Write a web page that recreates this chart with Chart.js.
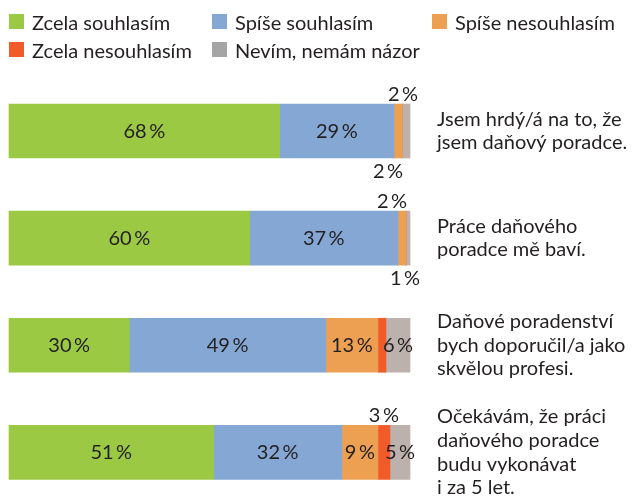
<!DOCTYPE html>
<html>
<head>
<meta charset="utf-8">
<script src="https://cdn.jsdelivr.net/npm/chart.js@4"></script>
<style>
  body { margin: 0; background: #fff; }
</style>
</head>
<body>
<canvas id="barChart" width="633" height="503"></canvas>
<script>
// kategorie (výroky) a hodnoty v %
const categories = [
  ['Jsem hrdý/á na to, že', 'jsem daňový poradce.'],
  ['Práce daňového', 'poradce mě baví.'],
  ['Daňové poradenství', 'bych doporučil/a jako', 'skvělou profesi.'],
  ['Očekávám, že práci', 'daňového poradce', 'budu vykonávat', 'i za 5 let.']
];
const seriesNames = ['Zcela souhlasím', 'Spíše souhlasím', 'Spíše nesouhlasím', 'Zcela nesouhlasím', 'Nevím, nemám názor'];
const zcelaSouhlasim = [67.5, 60, 30, 51];
const spiseSouhlasim = [28.5, 37, 49, 32];
const spiseNesouhlasim = [2, 2, 13, 9];
const zcelaNesouhlasim = [0, 0, 2, 3];
const nevim = [2, 1, 6, 5];

// barvy
const textColor = '#231F20';
const barColors = ['#9BC944', '#84A7D3', '#EDA052', '#F15A29', '#BCB1AC'];
const legendColors = ['#9BC944', '#84A7D3', '#EDA052', '#F15A29', '#A5A5A5'];
const font = 'Lato';

// kam dát popisek: uvnitř, nad, pod, nebo vůbec
const placement = [
  ['in', 'in', 'in', 'in'],
  ['in', 'in', 'in', 'in'],
  ['below', 'above', 'in', 'in'],
  ['', '', '', 'above'],
  ['above', 'below', 'in', 'in']
];
const outsideShift = [0, 0, -10, 0, -3];

const valuesPlugin = {
  id: 'values',
  afterDatasetsDraw(chart) {
    const ctx = chart.ctx;
    ctx.save();
    ctx.font = '20px ' + font;
    ctx.fillStyle = textColor;
    ctx.textAlign = 'center';
    ctx.textBaseline = 'alphabetic';
    chart.data.datasets.forEach((ds, i) => {
      chart.getDatasetMeta(i).data.forEach((bar, j) => {
        const v = ds.data[j];
        const where = placement[i][j];
        if (!v || !where) return;
        const txt = Math.round(v) + '\u2009%';
        const cx = (bar.x + bar.base) / 2;
        const h = bar.height;
        if (where === 'in') ctx.fillText(txt, cx, bar.y + 7);
        else if (where === 'above') ctx.fillText(txt, cx + outsideShift[i], bar.y - h / 2 - 3);
        else ctx.fillText(txt, cx + outsideShift[i], bar.y + h / 2 + 20);
      });
    });
    ctx.restore();
  }
};

// legenda ve dvou řádcích
const legendPlugin = {
  id: 'legendGrid',
  afterDraw(chart) {
    const ctx = chart.ctx;
    const cols = [9, 212, 432];
    const rows = [14, 42];
    ctx.save();
    ctx.font = '20px ' + font;
    ctx.textAlign = 'left';
    ctx.textBaseline = 'alphabetic';
    seriesNames.forEach((name, i) => {
      const x = cols[i % 3];
      const y = rows[Math.floor(i / 3)];
      ctx.fillStyle = legendColors[i];
      ctx.fillRect(x, y, 15, 15);
      ctx.fillStyle = textColor;
      ctx.fillText(name, x + 23, y + 16);
    });
    ctx.restore();
  }
};

const allSeries = [zcelaSouhlasim, spiseSouhlasim, spiseNesouhlasim, zcelaNesouhlasim, nevim];

const ctx = document.getElementById('barChart').getContext('2d');
new Chart(ctx, {
  type: 'bar',
  data: {
    labels: categories,
    datasets: allSeries.map((d, i) => ({
      label: seriesNames[i],
      data: d,
      backgroundColor: barColors[i],
      borderWidth: 0,
      barThickness: 54,
      clip: false
    }))
  },
  options: {
    indexAxis: 'y',
    responsive: false,
    animation: false,
    layout: { padding: { top: 131, bottom: 49, left: 9, right: 0 } },
    plugins: {
      legend: { display: false },
      tooltip: { enabled: false }
    },
    scales: {
      x: {
        stacked: true,
        min: 0,
        max: 100,
        display: false
      },
      y: {
        stacked: true,
        position: 'right',
        offset: false,
        grid: { display: false, drawTicks: false },
        border: { display: false },
        ticks: {
          color: textColor,
          padding: 27,
          font: { family: font, size: 20, lineHeight: 1.18 }
        },
        afterFit(scale) { scale.width = 223; }
      }
    }
  },
  plugins: [valuesPlugin, legendPlugin]
});
</script>
</body>
</html>
